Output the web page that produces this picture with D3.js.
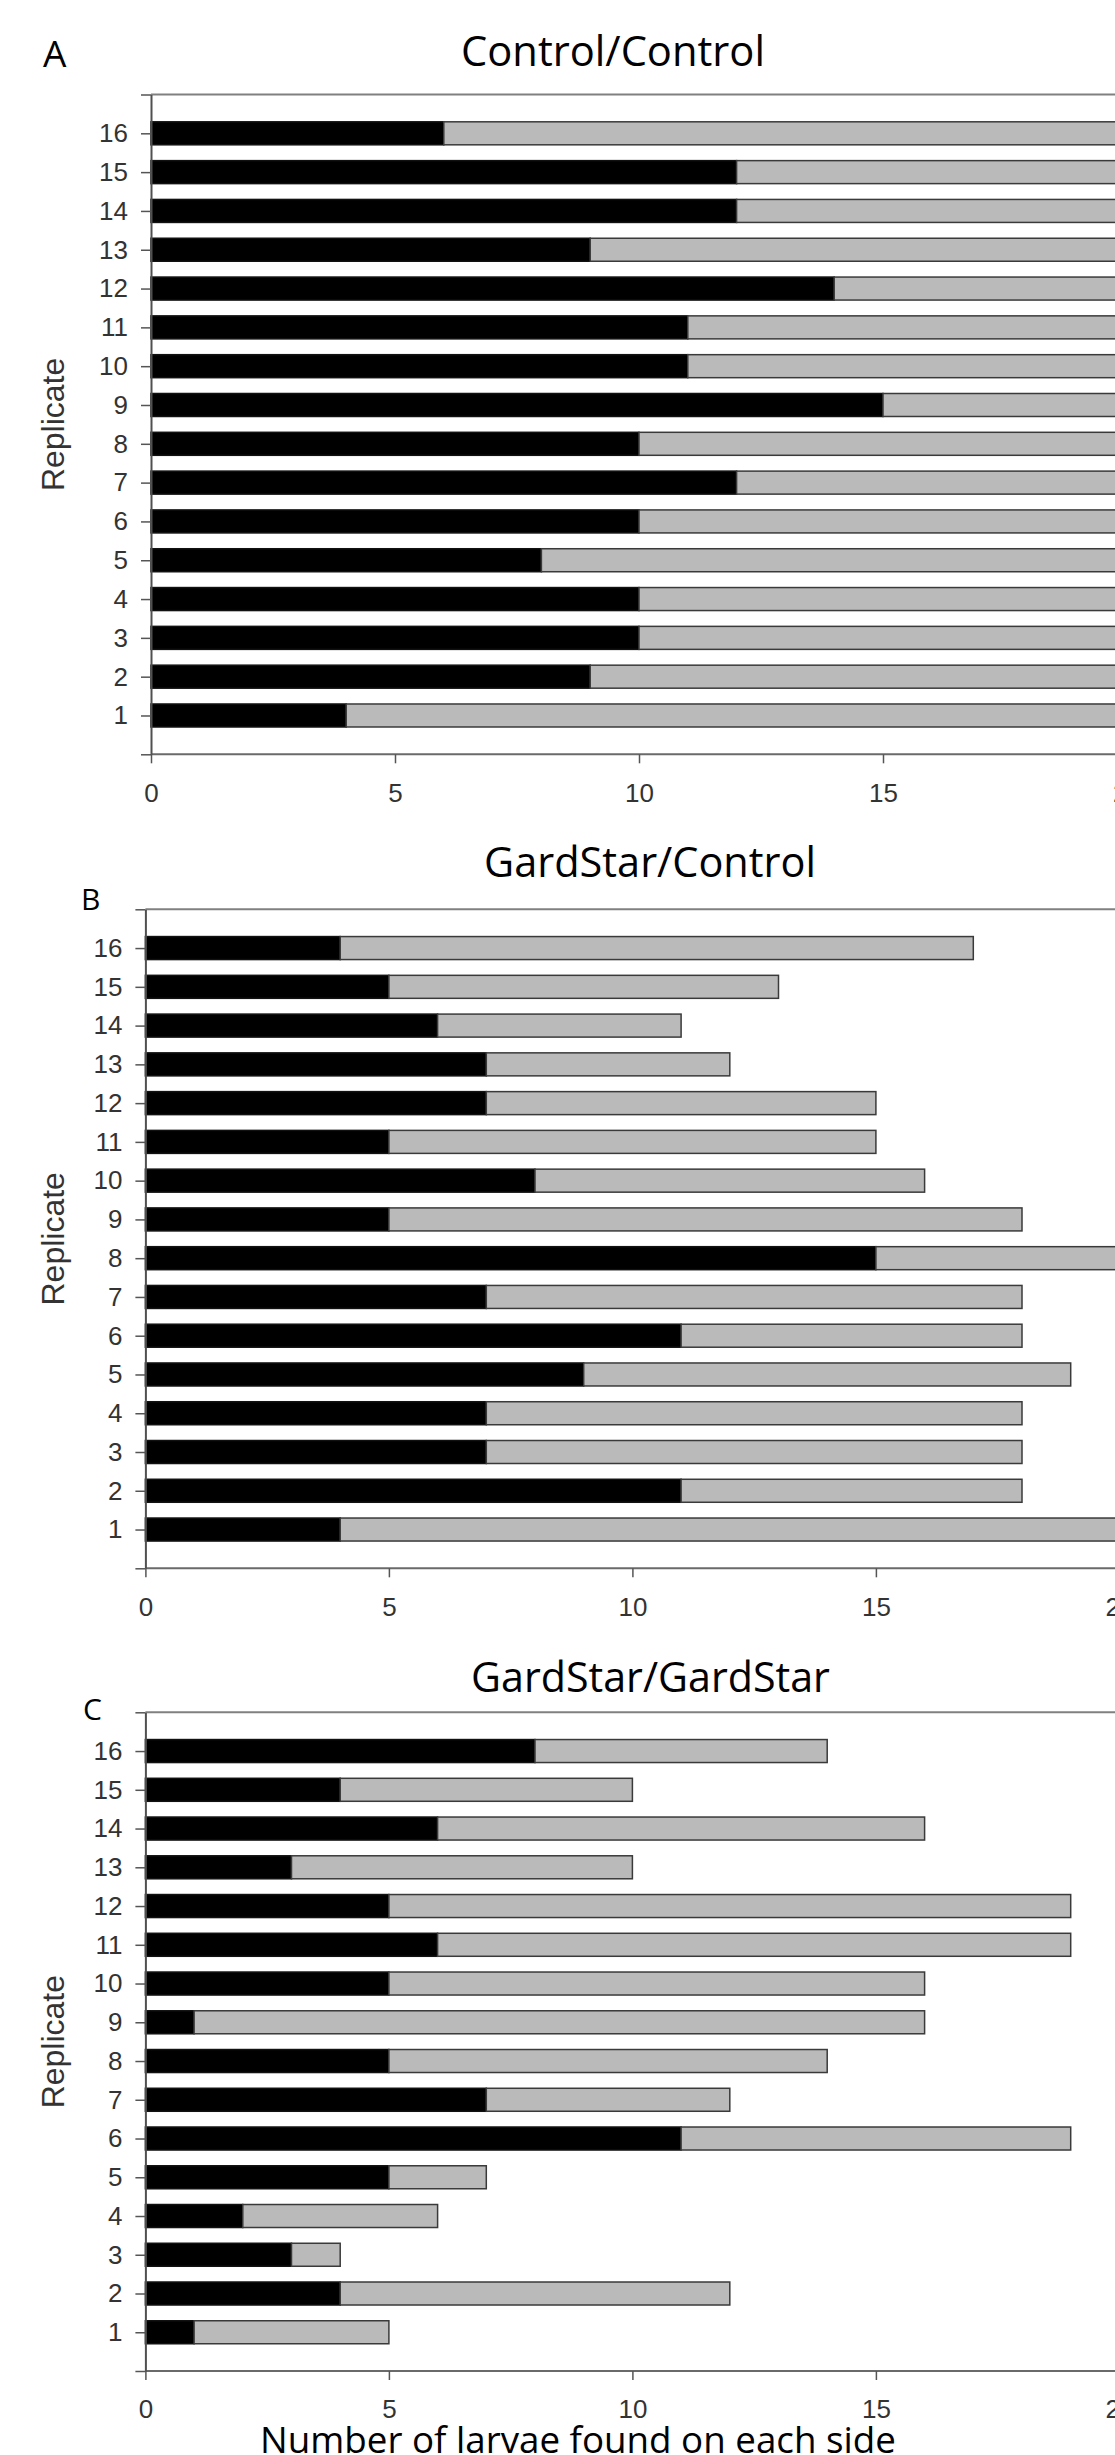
<!DOCTYPE html>
<html><head><meta charset="utf-8">
<script src="https://cdn.jsdelivr.net/npm/d3@7"></script>
<style>html,body{margin:0;padding:0;background:#fff;overflow:hidden}svg{display:block}</style>
</head><body>
<svg id="chart" width="1115" height="2455"></svg>
<script>
// ---------------- data ----------------
const replicates = [1,2,3,4,5,6,7,8,9,10,11,12,13,14,15,16];
const xTickValues = [0,5,10,15,20];
const panelTitles = ["Control/Control","GardStar/Control","GardStar/GardStar"];
const panelLetters = ["A","B","C"];
const yAxisLabel = "Replicate";
const xAxisLabel = "Number of larvae found on each side";

// larvae on the black side / grey side, replicate 1..16
const controlControlBlack = [4,9,10,10,8,10,12,10,15,11,11,14,9,12,12,6];
const controlControlGrey  = [16,11,10,10,12,10,8,10,5,9,9,6,11,8,8,14];

const gardstarControlBlack = [4,11,7,7,9,11,7,15,5,8,5,7,7,6,5,4];
const gardstarControlGrey  = [16,7,11,11,10,7,11,5,13,8,10,8,5,5,8,13];

const gardstarGardstarBlack = [1,4,3,2,5,11,7,5,1,5,6,5,3,6,4,8];
const gardstarGardstarGrey  = [4,8,1,4,2,8,5,9,15,11,13,14,7,10,6,6];

// ---------------- layout ----------------
const seriesByPanel = [
  [controlControlBlack, controlControlGrey],
  [gardstarControlBlack, gardstarControlGrey],
  [gardstarGardstarBlack, gardstarGardstarGrey]
];
const layout = [
  {x0:151,   x20:1127,  top:94.5,  bottom:754.3, title:{x:613, y:66,   w:304}, letter:{x:43, y:67,   size:37}},
  {x0:145.4, x20:1119.4,top:909.3, bottom:1568.3,title:{x:650, y:877,  w:332}, letter:{x:81, y:910,  size:30}},
  {x0:145.4, x20:1119.4,top:1712.3,bottom:2371,  title:{x:650.5,y:1692,w:359}, letter:{x:83, y:1720, size:30}}
];

const svg = d3.select("#chart");
const titleFont = "'Open Sans', 'Noto Sans', sans-serif";
const axisFont = "'Liberation Sans', Arial, sans-serif";

function fitWidth(sel, target){
  const w = sel.node().getComputedTextLength();
  const fs = parseFloat(sel.attr("font-size"));
  sel.attr("font-size", fs * target / w);
}

layout.forEach((L, i) => {
  const g = svg.append("g");
  const x = d3.scaleLinear().domain([0, 20]).range([L.x0, L.x20]);
  const y = d3.scaleLinear().domain([0, 17]).range([L.bottom, L.top]);
  const barH = 23;

  const rows = replicates.map((r, k) => ({rep: r, black: seriesByPanel[i][0][k], grey: seriesByPanel[i][1][k]}));
  const stacked = d3.stack().keys(["black","grey"])(rows);
  const fills = {black:"#000000", grey:"#bababa"};
  const strokes = {black:"#111111", grey:"#3a3a3a"};

  // top frame line
  g.append("line")
    .attr("x1", x(0)).attr("x2", x(21)).attr("y1", y(17)).attr("y2", y(17))
    .attr("stroke", "#808080").attr("stroke-width", 2);

  // bars
  stacked.forEach(layer => {
    g.append("g").selectAll("rect").data(layer).join("rect")
      .attr("x", d => x(d[0]))
      .attr("width", d => x(d[1]) - x(d[0]))
      .attr("y", d => y(d.data.rep) - barH / 2)
      .attr("height", barH)
      .attr("fill", fills[layer.key])
      .attr("stroke", strokes[layer.key])
      .attr("stroke-width", 1.5);
  });

  // bottom axis
  const xAxis = g.append("g")
    .attr("transform", `translate(0,${L.bottom})`)
    .call(d3.axisBottom(x).tickValues(xTickValues).tickSize(9).tickSizeOuter(0).tickPadding(20));
  xAxis.select(".domain").attr("stroke", "#6a6a6a").attr("stroke-width", 2)
    .attr("d", `M${x(0)},0H${x(21)}`);
  xAxis.selectAll(".tick line").attr("stroke", "#555").attr("stroke-width", 1.5);
  xAxis.selectAll(".tick text").attr("font-family", axisFont).attr("font-size", 26).attr("fill", "#333");

  // left axis
  const yAxis = g.append("g")
    .attr("transform", `translate(${L.x0},0)`)
    .call(d3.axisLeft(y).tickValues(d3.range(0, 18)).tickSize(10).tickSizeOuter(0).tickPadding(13)
      .tickFormat(d => replicates.includes(d) ? String(d) : ""));
  yAxis.select(".domain").attr("stroke", "#505050").attr("stroke-width", 2);
  yAxis.selectAll(".tick line").attr("stroke", "#555").attr("stroke-width", 1.5);
  yAxis.selectAll(".tick text").attr("font-family", axisFont).attr("font-size", 26).attr("fill", "#333");

  // y label
  g.append("text")
    .attr("transform", `translate(64,${(L.top + L.bottom) / 2}) rotate(-90)`)
    .attr("text-anchor", "middle")
    .attr("font-family", axisFont).attr("font-size", 32).attr("fill", "#333")
    .text(yAxisLabel);

  // title
  const t = g.append("text")
    .attr("x", L.title.x).attr("y", L.title.y)
    .attr("text-anchor", "middle")
    .attr("font-family", titleFont).attr("font-size", 40).attr("fill", "#000")
    .text(panelTitles[i]);
  fitWidth(t, L.title.w);

  // panel letter
  g.append("text")
    .attr("x", L.letter.x).attr("y", L.letter.y)
    .attr("font-family", titleFont).attr("font-size", L.letter.size).attr("fill", "#000")
    .text(panelLetters[i]);
});

// x axis title
const xl = svg.append("text")
  .attr("x", 578).attr("y", 2453)
  .attr("text-anchor", "middle")
  .attr("font-family", titleFont).attr("font-size", 36).attr("fill", "#000")
  .text(xAxisLabel);
fitWidth(xl, 636);
</script>
</body></html>
